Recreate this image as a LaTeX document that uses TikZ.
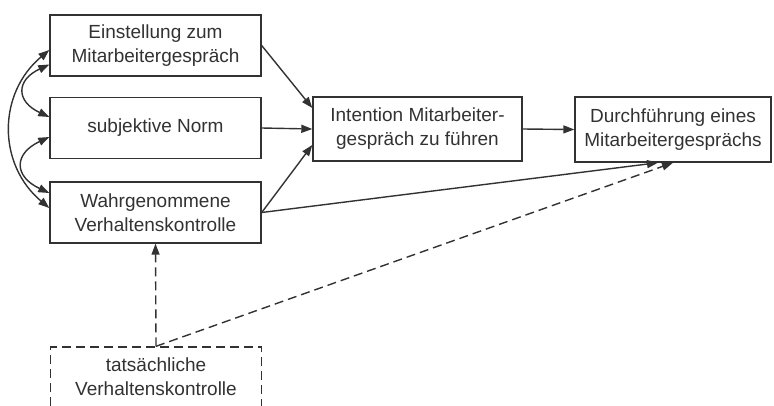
\documentclass[tikz,border=0pt]{standalone}
\usepackage{fontspec}
\setmainfont{Liberation Sans}
\usetikzlibrary{arrows.meta,positioning,calc}
\definecolor{tpbgray}{RGB}{50,50,50}
\begin{document}
\begin{tikzpicture}[x=1pt,y=-1pt,
  box/.style={draw=tpbgray,line width=1.4pt,minimum width=211pt,minimum height=61pt,
    align=center,text=tpbgray,inner sep=0pt,font=\fontsize{19}{24}\selectfont},
  link/.style={draw=tpbgray,line width=1.4pt,-{Triangle[length=11pt,width=8pt]}},
  both/.style={draw=tpbgray,line width=1.4pt,{Triangle[length=11pt,width=8pt]}-{Triangle[length=11pt,width=8pt]}},
  dashlink/.style={link,dash pattern=on 9pt off 5pt}]
  \useasboundingbox (0,0) rectangle (774,405);
  % the three determinants
  \node[box] (einst) at (155.5,45.5) {Einstellung zum\\Mitarbeitergespräch};
  \node[box] (norm) at (155.5,128) {subjektive Norm};
  \node[box] (wahr) at (155.5,212.5) {Wahrgenommene\\Verhaltenskontrolle};
  % intention and behaviour
  \node[box,minimum width=209pt,minimum height=64pt] (intent) at (417.5,129) {Intention Mitarbeiter-\\gespräch zu führen};
  \node[box,minimum width=196pt,minimum height=65pt] (durch) at (673,129.5) {Durchführung eines\\Mitarbeitergesprächs};
  % actual control
  \node[box,dash pattern=on 9pt off 5pt,minimum height=60pt] (tats) at (156,377) {tatsächliche\\Verhaltenskontrolle};
  % correlations
  \draw[both] ([yshift=-19pt]einst.west) to[out=205,in=155,looseness=1.8] ([yshift=11pt]norm.west);
  \draw[both] ([yshift=-9pt]norm.west) to[out=205,in=155,looseness=1.8] ([yshift=19.5pt]wahr.west);
  \draw[both] ([yshift=-4.5pt]einst.west) to[out=220,in=140,looseness=1.1] ([yshift=4.5pt]wahr.west);
  % paths
  \draw[link] (einst.east) -- ([yshift=21pt]intent.west);
  \draw[link] (norm.east) -- (intent.west);
  \draw[link] (wahr.east) -- ([yshift=-16pt]intent.west);
  \draw[link] (wahr.east) -- ([xshift=-15pt]durch.south);
  \draw[link] (intent.east) -- (durch.west);
  \draw[dashlink] (tats.north) -- (wahr.south);
  \draw[dashlink] (tats.north) -- (durch.south);
\end{tikzpicture}
\end{document}
